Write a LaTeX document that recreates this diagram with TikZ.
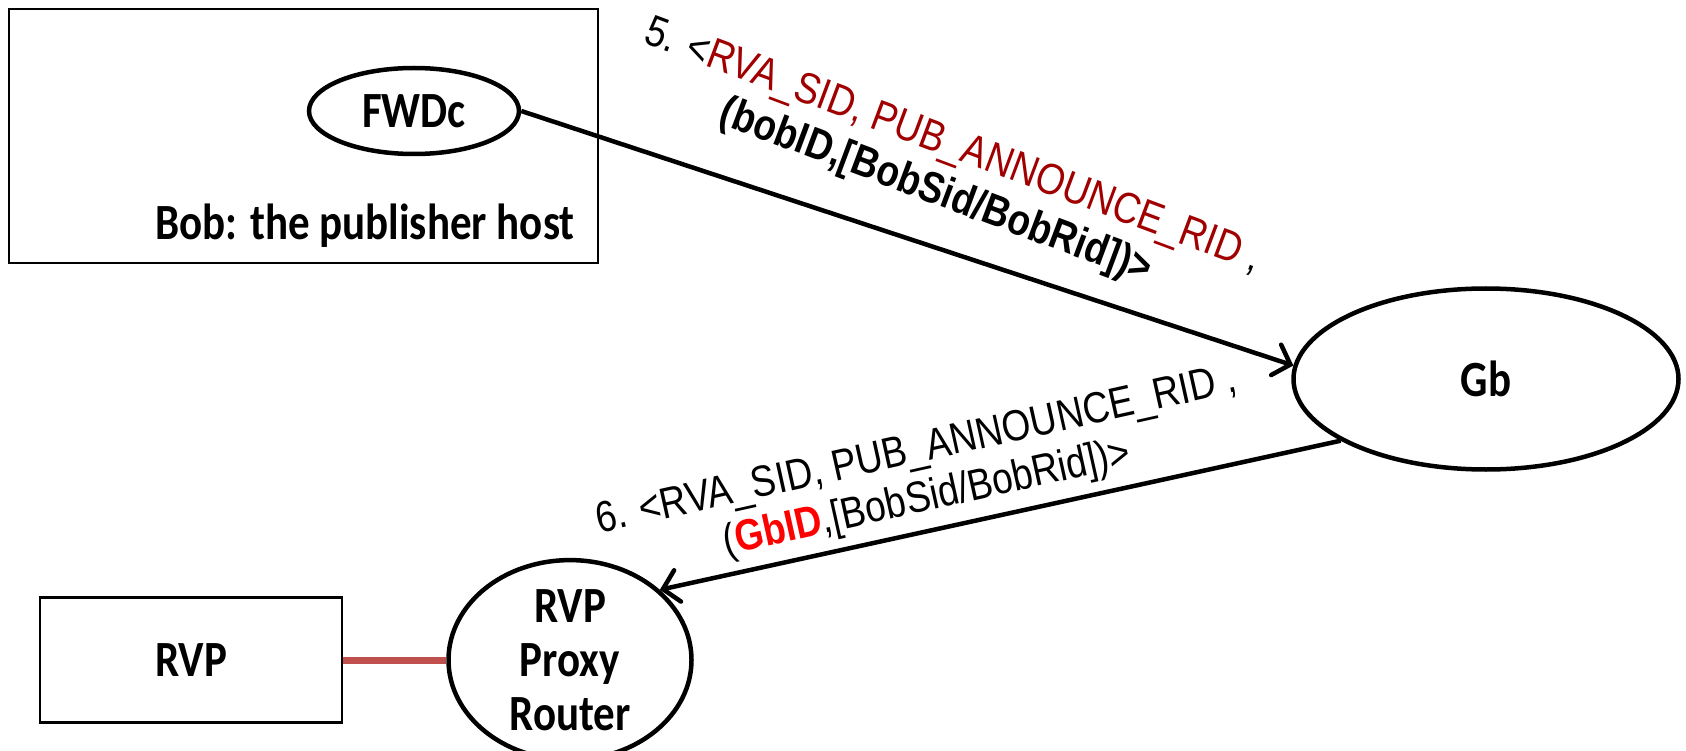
\documentclass[tikz,border=0pt]{standalone}
\usepackage{fontspec}
\usepackage{graphicx}
\usetikzlibrary{shapes.geometric,arrows.meta}
\newfontfamily\calibri{Carlito}
\newfontfamily\arial{Liberation Sans}
\definecolor{darkred}{RGB}{160,0,0}
\definecolor{linkred}{RGB}{192,80,77}
\definecolor{brightred}{RGB}{255,0,0}
\newcommand{\tallt}[1]{\scalebox{1}[1.18]{#1}}
\tikzset{
  thinbox/.style={draw, line width=2.5pt, inner sep=0pt},
  oval/.style={draw, ellipse, line width=4.5pt, inner sep=0pt, font=\calibri\bfseries\fontsize{43}{54}\selectfont, align=center},
  lbl/.style={font=\calibri\bfseries\fontsize{43}{54}\selectfont},
  msg/.style={font=\arial\fontsize{37}{49}\selectfont, align=center, inner sep=0pt},
  arr/.style={line width=4.5pt, -{Straight Barb[length=15pt,width=32pt,line cap=round]}}
}
\begin{document}
\begin{tikzpicture}[x=1pt,y=-1pt]
\useasboundingbox (0,0) rectangle (1686,751);
% Bob box
\node[thinbox, minimum width=589pt, minimum height=254pt] (bob) at (303.5,136) {};
\node[lbl, anchor=east] (bobtxt) at (578,226) {\tallt{Bob: the publisher host}};
\node[oval, minimum width=210pt, minimum height=86pt] (fwdc) at (414,111) {\tallt{FWDc}};
% Gb
\node[oval, minimum width=385pt, minimum height=181pt] (gb) at (1486,379) {\tallt{Gb}};
% RVP proxy
\node[oval, minimum width=243pt, minimum height=180pt] (proxy) at (570,660) {\tallt{RVP}\\\tallt{Proxy}\\\tallt{Router}};
% RVP box
\node[thinbox, minimum width=302pt, minimum height=125pt, lbl] (rvp) at (191,660) {\tallt{RVP}};
% connectors
\draw[linkred, line width=7pt] (rvp.east) -- (proxy.west);
\draw[arr] (fwdc.east) -- (gb.176);
\draw[arr] (gb.203) -- (proxy.38);
% labels
\node[msg, rotate=-20.5] (m5) at (944,170) {\tallt{5. <\textcolor{darkred}{RVA\_SID, PUB\_ANNOUNCE\_RID} ,}\\\tallt{\textbf{(bobID,[BobSid/BobRid])>}}};
\node[msg, rotate=12.5] (m6) at (922,476) {\tallt{6. <RVA\_SID, PUB\_ANNOUNCE\_RID ,}\\\tallt{(\textcolor{brightred}{\textbf{GbID}},[BobSid/BobRid])>}};
\end{tikzpicture}
\end{document}
